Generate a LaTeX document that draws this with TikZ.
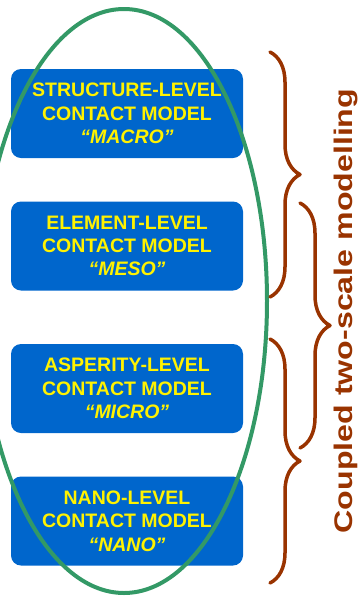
\documentclass[tikz,border=0pt]{standalone}
\usepackage{fontspec}
\setmainfont{Liberation Sans}
\usepackage{xcolor}
\usetikzlibrary{decorations.pathreplacing}
\definecolor{boxblue}{HTML}{0066CC}
\definecolor{ovalgreen}{HTML}{339966}
\definecolor{bracebrown}{HTML}{993300}

\begin{document}
\begin{tikzpicture}[x=1pt, y=-1pt,
  every node/.style={font=\fontsize{19.5}{23.3}\selectfont\bfseries},
  level/.style={fill=boxblue, rounded corners=10pt, minimum width=232pt, minimum height=89pt,
    inner sep=0pt, align=center, text=yellow},
  bracket/.style={draw=bracebrown, line width=3.5pt, line cap=round, line join=round,
    decorate, decoration={brace, amplitude=30pt}}]
  \useasboundingbox (0,0) rectangle (358,598);
  % Levels
  \node[level] (macro) at (127,113.5) {STRUCTURE-LEVEL\\CONTACT MODEL\\\textit{“MACRO”}};
  \node[level] (meso) at (127,246) {ELEMENT-LEVEL\\CONTACT MODEL\\\textit{“MESO”}};
  \node[level] (micro) at (127,388.5) {ASPERITY-LEVEL\\CONTACT MODEL\\\textit{“MICRO”}};
  \node[level] (nano) at (127,521) {NANO-LEVEL\\CONTACT MODEL\\\textit{“NANO”}};
  % Oval round the levels
  \draw[ovalgreen, line width=4pt] (124,301) ellipse [x radius=143pt, y radius=292pt];
  % Braces
  \coordinate (topA) at (270,52);
  \coordinate (botA) at (270,297);
  \coordinate (topB) at (300,203);
  \coordinate (botB) at (300,448);
  \coordinate (topC) at (270,339);
  \coordinate (botC) at (270,583);
  \draw[bracket] (topA) -- (botA);
  \draw[bracket] (topB) -- (botB);
  \draw[bracket] (topC) -- (botC);
  % Label
  \node[text=bracebrown, rotate=90, anchor=base, font=\fontsize{25.5}{30}\selectfont\bfseries]
    (coupled) at (352.5,311) {\scalebox{1.26}[1]{Coupled two-scale modelling}};
\end{tikzpicture}
\end{document}
